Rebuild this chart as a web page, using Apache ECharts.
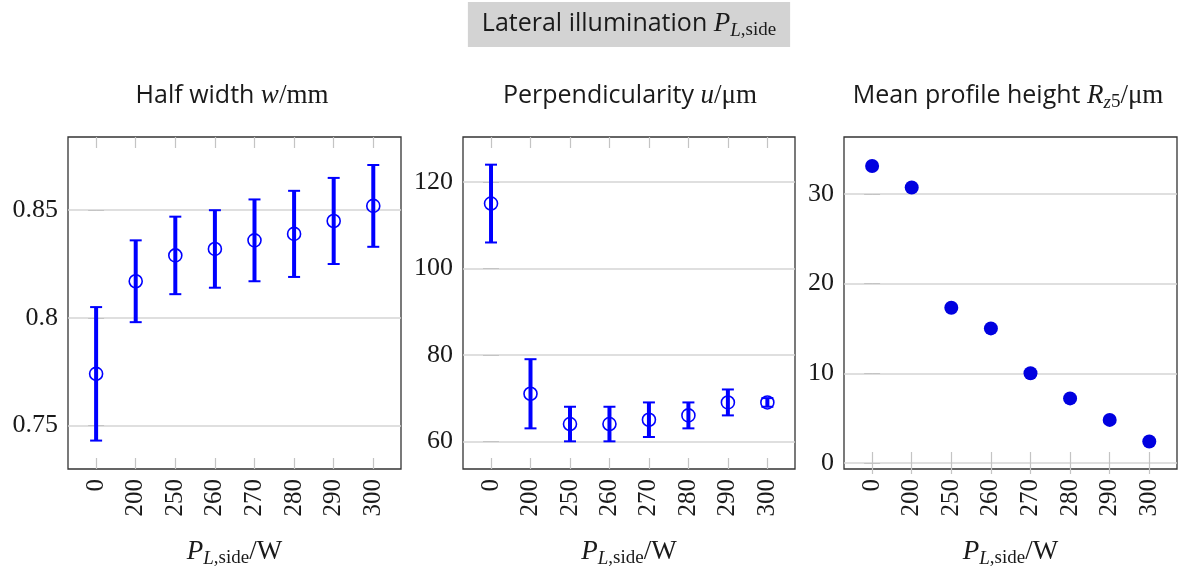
<!DOCTYPE html>
<html>
<head>
<meta charset="utf-8">
<script src="https://cdn.jsdelivr.net/npm/echarts@6/dist/echarts.min.js"></script>
<style>
  html, body { margin: 0; padding: 0; background: #fff; }
  #chart { width: 1180px; height: 573px; }
</style>
</head>
<body>
<div id="chart"></div>
<script>
const categories = ["0", "200", "250", "260", "270", "280", "290", "300"];

const widthMean = [0.774, 0.817, 0.829, 0.832, 0.836, 0.839, 0.845, 0.852];
const widthLow = [0.743, 0.798, 0.811, 0.814, 0.817, 0.819, 0.825, 0.833];
const widthHigh = [0.805, 0.836, 0.847, 0.85, 0.855, 0.859, 0.865, 0.871];

const perpMean = [115, 71, 64, 64, 65, 66, 69, 69];
const perpLow = [106, 63, 60, 60, 61, 63, 66, 68];
const perpHigh = [124, 79, 68, 68, 69, 69, 72, 70];

const rzMean = [33.1, 30.7, 17.3, 15.0, 10.0, 7.2, 4.8, 2.4];

const widthTicks = [0.75, 0.8, 0.85];
const perpTicks = [60, 80, 100, 120];
const rzTicks = [0, 10, 20, 30];

const BLUE = "#0000ff";
const SERIF = "'Liberation Serif', 'DejaVu Serif', serif";
const SANS = "'Open Sans', 'DejaVu Sans', sans-serif";
const catIdx = categories.map((c, i) => i);

const gridLeft = [68, 463, 844];
const gridWidth = [333, 332, 333];
const yRange = [
  [0.7298, 0.884],
  [53.6, 130.4],
  [-0.67, 36.33],
];
const yTicks = [widthTicks, perpTicks, rzTicks];

const mathRich = {
  t: { fontFamily: SANS, fontWeight: "normal", fontSize: 25, color: "#1a1a1a", lineHeight: 32 },
  m: { fontFamily: SERIF, fontWeight: "normal", fontStyle: "italic", fontSize: 27, color: "#1a1a1a", lineHeight: 32 },
  r: { fontFamily: SERIF, fontWeight: "normal", fontSize: 27, color: "#1a1a1a", lineHeight: 32 },
  si: { fontFamily: SERIF, fontWeight: "normal", fontStyle: "italic", fontSize: 19, color: "#1a1a1a", lineHeight: 16, verticalAlign: "bottom" },
  s: { fontFamily: SERIF, fontWeight: "normal", fontSize: 19, color: "#1a1a1a", lineHeight: 16, verticalAlign: "bottom" },
};

function renderBar(params, api) {
  const x = api.value(0);
  const lo = api.coord([x, api.value(1)]);
  const hi = api.coord([x, api.value(2)]);
  const c = 6;
  const capStyle = { stroke: BLUE, lineWidth: 2 };
  return {
    type: "group",
    children: [
      { type: "line", shape: { x1: lo[0], y1: lo[1], x2: hi[0], y2: hi[1] }, style: { stroke: BLUE, lineWidth: 4 } },
      { type: "line", shape: { x1: lo[0] - c, y1: lo[1], x2: lo[0] + c, y2: lo[1] }, style: capStyle },
      { type: "line", shape: { x1: hi[0] - c, y1: hi[1], x2: hi[0] + c, y2: hi[1] }, style: capStyle },
    ],
  };
}

const grids = [];
const xAxes = [];
const yAxes = [];
for (let i = 0; i < 3; i++) {
  grids.push({
    left: gridLeft[i],
    width: gridWidth[i],
    top: 137,
    height: 332,
    show: true,
    borderColor: "#333",
    borderWidth: 1.3,
    backgroundColor: "transparent",
  });
  const xBase = {
    type: "value",
    gridIndex: i,
    min: -0.71,
    max: 7.7,
    axisLine: { show: false },
    splitLine: { show: false },
    axisTick: { show: true, inside: true, length: 11, customValues: catIdx, lineStyle: { color: "#c4c4c4", width: 1.2 } },
  };
  xAxes.push(Object.assign({}, xBase, {
    position: "bottom",
    axisLabel: {
      customValues: catIdx,
      rotate: 90,
      margin: 10,
      fontFamily: SERIF,
      fontSize: 25,
      color: "#1a1a1a",
      formatter: (v) => categories[Math.round(v)],
    },
    name: "{m|P}{si|L}{s|,side}{r|/W}",
    nameLocation: "middle",
    nameGap: 67,
    nameTextStyle: { rich: mathRich, lineHeight: 32 },
  }));
  xAxes.push(Object.assign({}, xBase, {
    position: "top",
    axisLabel: { show: false },
  }));
  const yBase = {
    type: "value",
    gridIndex: i,
    min: yRange[i][0],
    max: yRange[i][1],
    axisLine: { show: false },
  };
  yAxes.push(Object.assign({}, yBase, {
    position: "left",
    axisTick: { show: true, inside: true, length: 8, customValues: yTicks[i], lineStyle: { color: "#c4c4c4" } },
    splitLine: { show: true, lineStyle: { color: "#d4d4d4", width: 1.5 } },
    axisLabel: {
      customValues: yTicks[i],
      margin: 10,
      fontFamily: SERIF,
      fontSize: 26,
      color: "#1a1a1a",
      formatter: (v) => String(v),
    },
  }));
  yAxes.push(Object.assign({}, yBase, {
    position: "right",
    axisTick: { show: true, inside: true, length: 8, customValues: yTicks[i], lineStyle: { color: "#c4c4c4" } },
    splitLine: { show: false },
    axisLabel: { show: false },
  }));
}

const pts = (mean) => catIdx.map((i) => [i, mean[i]]);
const bars = (lo, hi) => catIdx.map((i) => [i, lo[i], hi[i]]);

const hollow = {
  type: "scatter",
  symbol: "circle",
  symbolSize: 13,
  itemStyle: { color: "rgba(0,0,0,0)", borderColor: BLUE, borderWidth: 1.6, opacity: 1 },
  z: 4,
};

const titleBase = {
  top: 80,
  textAlign: "center",
  padding: 0,
  textStyle: { rich: mathRich, lineHeight: 32, fontWeight: "normal" },
};

const option = {
  animation: false,
  title: [
    {
      text: "{t|Lateral illumination }{m|P}{si|L}{s|,side}",
      left: 615,
      top: 2,
      textAlign: "center",
      backgroundColor: "#d3d3d3",
      padding: [6, 14, 7, 14],
      textStyle: { rich: mathRich, lineHeight: 32, fontWeight: "normal" },
    },
    Object.assign({}, titleBase, { text: "{t|Half width }{m|w}{r|/mm}", left: 232 }),
    Object.assign({}, titleBase, { text: "{t|Perpendicularity }{m|u}{r|/μm}", left: 630 }),
    Object.assign({}, titleBase, { text: "{t|Mean profile height }{m|R}{si|z}{s|5}{r|/μm}", left: 1008 }),
  ],
  grid: grids,
  xAxis: xAxes,
  yAxis: yAxes,
  series: [
    { type: "custom", xAxisIndex: 0, yAxisIndex: 0, renderItem: renderBar, data: bars(widthLow, widthHigh), encode: { x: 0, y: [1, 2] }, z: 3 },
    Object.assign({}, hollow, { xAxisIndex: 0, yAxisIndex: 0, data: pts(widthMean) }),
    { type: "custom", xAxisIndex: 2, yAxisIndex: 2, renderItem: renderBar, data: bars(perpLow, perpHigh), encode: { x: 0, y: [1, 2] }, z: 3 },
    Object.assign({}, hollow, { xAxisIndex: 2, yAxisIndex: 2, data: pts(perpMean) }),
    {
      type: "scatter",
      xAxisIndex: 4,
      yAxisIndex: 4,
      symbol: "circle",
      symbolSize: 14,
      itemStyle: { color: "#0000e0", opacity: 1 },
      data: pts(rzMean),
      z: 4,
    },
  ],
};

const myChart = echarts.init(document.getElementById("chart"));
myChart.setOption(option);
</script>
</body>
</html>
